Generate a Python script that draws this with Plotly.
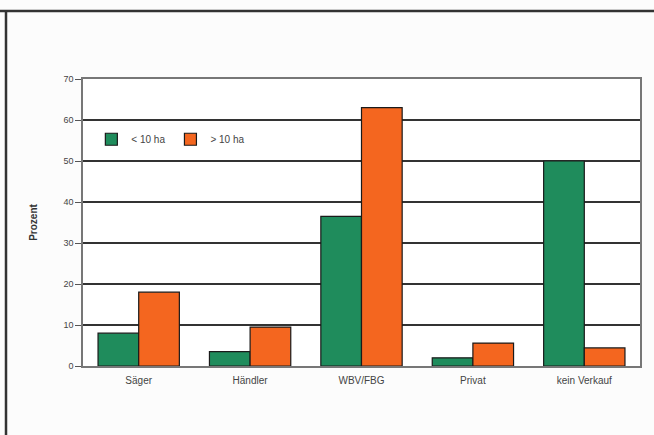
import plotly.graph_objects as go

categories = ["Säger", "Händler", "WBV/FBG", "Privat", "kein Verkauf"]
small = [8, 3.5, 36.5, 2, 50]
large = [18, 9.5, 63, 5.6, 4.4]
series_names = ["< 10 ha", "> 10 ha"]
tick_vals = [0, 10, 20, 30, 40, 50, 60, 70]

GREEN = "#1f8c5c"
ORANGE = "#f4661f"
FONT = "Liberation Sans, Arial, sans-serif"

fig = go.Figure()
fig.add_trace(go.Bar(x=categories, y=small, name=series_names[0],
                     marker=dict(color=GREEN, line=dict(color="#1a1a1a", width=1.2))))
fig.add_trace(go.Bar(x=categories, y=large, name=series_names[1],
                     marker=dict(color=ORANGE, line=dict(color="#1a1a1a", width=1.2))))

fig.update_layout(
    width=654, height=435,
    margin=dict(l=83, r=14, t=79, b=69),
    paper_bgcolor="#fcfcfc", plot_bgcolor="#ffffff",
    barmode="group", bargap=0.27, bargroupgap=0,
    font=dict(family=FONT, size=10, color="#444444"),
    showlegend=True,
    legend=dict(orientation="h", x=0.015, y=0.79, xanchor="left", yanchor="middle",
                bgcolor="rgba(0,0,0,0)", font=dict(size=10, color="#444444"),
                itemwidth=30, tracegroupgap=0, traceorder="normal"),
    xaxis=dict(showgrid=False, showline=True, linecolor="#777777", linewidth=1.5,
               mirror=True, ticks="outside", ticklen=4, tickcolor="rgba(0,0,0,0)",
               tickfont=dict(size=10, color="#444444")),
    yaxis=dict(range=[0, 70], tickvals=tick_vals, showgrid=True, gridcolor="#333333",
               gridwidth=1.6, showline=True, linecolor="#777777", linewidth=1.5,
               mirror=True, ticks="outside", ticklen=6, tickcolor="#555555",
               tickfont=dict(size=9, color="#444444"), zeroline=False,
               title=dict(text="<b>Prozent</b>", font=dict(size=10, color="#333333"),
                          standoff=24)),
    shapes=[
        dict(type="line", xref="paper", yref="paper", x0=-83/557, x1=1.1,
             y0=(366-11)/287, y1=(366-11)/287, line=dict(color="#333333", width=2.5)),
        dict(type="line", xref="paper", yref="paper", x0=(6-83)/557, x1=(6-83)/557,
             y0=(366-11)/287, y1=-0.3, line=dict(color="#333333", width=2.5)),
    ],
)

fig.write_html("out.html")
